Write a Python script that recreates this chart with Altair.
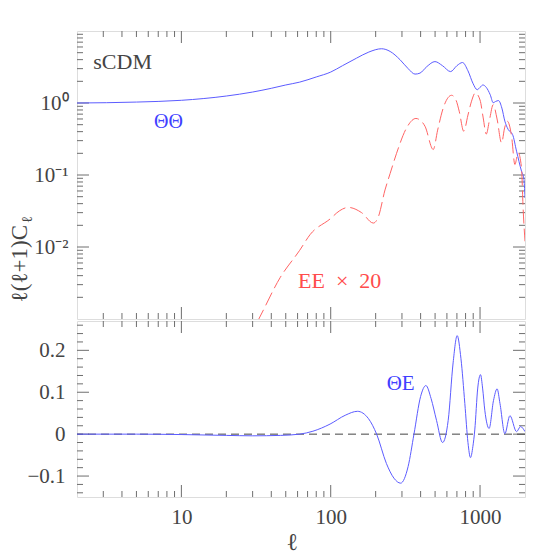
import altair as alt
import pandas as pd

# ---------------- data ----------------
ell_TT = [2, 5, 10, 20, 30, 40, 50, 62, 80, 100, 120, 149, 180, 219, 250, 291, 330, 367, 396, 440,
          499, 560, 635, 700, 763, 830, 899, 957, 1000, 1045, 1100, 1170, 1225, 1270, 1330, 1400,
          1466, 1542, 1651, 1756, 1895, 1965, 2000]
TT = [1.0, 1.03, 1.09, 1.25, 1.42, 1.6, 1.78, 1.95, 2.3, 2.69, 3.3, 4.2, 5.1, 5.67, 5.2, 4.0, 3.0, 2.52, 2.6, 3.2,
      3.76, 3.3, 2.73, 3.3, 3.65, 2.8, 1.85, 1.53, 1.65, 1.78, 1.65, 1.3, 1.01, 1.05, 1.08, 0.85,
      0.56, 0.43, 0.365, 0.214, 0.113, 0.09, 0.048]

ell_EE = [28, 33, 46, 62, 73, 99, 115, 131, 161, 193, 208, 231, 250, 276, 322, 372, 396, 428, 486, 520,
          567, 645, 690, 725, 778, 830, 877, 930, 1000, 1050, 1100, 1160, 1225, 1300, 1394, 1460,
          1520, 1626, 1711, 1800, 1895, 1942, 2000]
EE20 = [5.3e-4, 1.0e-3, 3.8e-3, 9.0e-3, 1.5e-2, 2.45e-2, 3.2e-2, 3.55e-2, 3.0e-2, 2.15e-2, 2.6e-2, 6.2e-2,
        0.105, 0.2, 0.45, 0.61, 0.58, 0.475, 0.226, 0.42, 0.853, 1.28, 1.1, 0.77, 0.405, 0.68, 1.06, 1.38,
        1.1, 0.62, 0.37, 0.6, 0.95, 0.6, 0.279, 0.45, 0.56, 0.346, 0.14, 0.204, 0.126, 0.035, 0.012]

ell_TE = [2, 5, 10, 20, 30, 46, 62, 76, 99, 125, 151, 179, 203, 236, 265, 294, 330, 361, 400, 434,
          470, 511, 561, 612, 660, 703, 745, 791, 830, 863, 895, 922, 965, 1007, 1040, 1076, 1150,
          1230, 1301, 1360, 1466, 1585, 1756, 1866, 2000]
TE = [0.0, 0.0, -0.001, -0.003, -0.004, -0.003, 0.0, 0.007, 0.024, 0.045, 0.0545, 0.037, 0.0, -0.07,
      -0.105, -0.117, -0.077, 0.0, 0.09, 0.116, 0.085, 0.033, -0.02, 0.033, 0.17, 0.235, 0.18, 0.073,
      -0.02, -0.056, -0.03, 0.01, 0.11, 0.142, 0.11, 0.057, 0.0135, 0.08, 0.108, 0.073, 0.001, 0.044,
      0.006, 0.018, 0.006]

x_major = [10, 100, 1000]
x_minor = [3, 4, 5, 6, 7, 8, 9, 20, 30, 40, 50, 60, 70, 80, 90, 200, 300, 400, 500, 600, 700, 800, 900]
ytop_major = [0.01, 0.1, 1]
ytop_minor = [m * d for d in (0.001, 0.01, 0.1, 1) for m in range(2, 10)]
ybot_major = [-0.1, 0.0, 0.1, 0.2]
ybot_minor = [-0.14, -0.12, -0.08, -0.06, -0.04, -0.02, 0.02, 0.04, 0.06, 0.08,
              0.12, 0.14, 0.16, 0.18, 0.22, 0.24, 0.26]

# ---------------- styling ----------------
W, H1, H2 = 448, 288, 176
FONT = "Liberation Serif"
FRAME = "#6e6e6e"
LABEL = "#444444"
BLUE = "#5c5cff"
BLUE_T = "#4040ff"
RED = "#ff6464"
RED_T = "#ff4c4c"
MAJ, MIN = 12, 6

xscale = alt.Scale(type="log", domain=[2, 2000], nice=False)
ytop_scale = alt.Scale(type="log", domain=[0.001, 10], nice=False)
ybot_scale = alt.Scale(type="linear", domain=[-0.15, 0.27], nice=False, zero=False)

common_axis = dict(ticks=False, tickSize=0, domain=False, grid=False, labelFont=FONT,
                   labelFontSize=21, labelColor=LABEL, title=None)
ytop_axis = alt.Axis(values=ytop_major, labelPadding=9,
                     labelExpr="datum.value == 1 ? '10⁰' : datum.value == 0.1 ? '10⁻¹' : '10⁻²'",
                     **common_axis)
ybot_axis = alt.Axis(values=ybot_major, labelPadding=12, format=".1~f", **common_axis)
xbot_axis = alt.Axis(values=x_major, labelPadding=9, format="d", labelFlush=False, **common_axis)


def tick_layers(xaxis, yscale, yaxis, ymaj, ymin, H):
    layers = []
    for vals, L in ((x_major, MAJ), (x_minor, MIN)):
        df = pd.DataFrame({"v": vals})
        for y0, y1 in ((H - L, H), (0, L)):
            layers.append(alt.Chart(df).mark_rule(color=FRAME, strokeWidth=1).encode(
                x=alt.X("v:Q", scale=xscale, axis=xaxis),
                y=alt.value(y0), y2=alt.value(y1)))
    for vals, L in ((ymaj, MAJ), (ymin, MIN)):
        df = pd.DataFrame({"v": vals})
        for x0, x1 in ((0, L), (W - L, W)):
            layers.append(alt.Chart(df).mark_rule(color=FRAME, strokeWidth=1).encode(
                y=alt.Y("v:Q", scale=yscale, axis=yaxis),
                x=alt.value(x0), x2=alt.value(x1)))
    return layers


def text_layer(t, **kw):
    enc = {k: v for k, v in kw.items() if k in ("x", "y")}
    mk = {k: v for k, v in kw.items() if k not in ("x", "y")}
    return alt.Chart(pd.DataFrame({"t": [t]})).mark_text(**mk).encode(text="t:N", **enc)


# ---------------- top panel ----------------
tt_df = pd.DataFrame({"l": ell_TT, "v": TT})
ee_df = pd.DataFrame({"l": ell_EE, "v": EE20})

tt_line = alt.Chart(tt_df).mark_line(color=BLUE, strokeWidth=1, interpolate="monotone", clip=True).encode(
    x=alt.X("l:Q", scale=xscale, axis=None),
    y=alt.Y("v:Q", scale=ytop_scale, axis=ytop_axis))
ee_line = alt.Chart(ee_df).mark_line(color=RED, strokeWidth=1, strokeDash=[14, 5],
                                     interpolate="monotone", clip=True).encode(
    x=alt.X("l:Q", scale=xscale, axis=None),
    y=alt.Y("v:Q", scale=ytop_scale, axis=ytop_axis))

top_texts = [
    text_layer("sCDM", x=alt.datum(2.57), y=alt.datum(2.93), align="left", baseline="alphabetic",
               font=FONT, fontSize=22, color=LABEL),
    text_layer("ΘΘ", x=alt.datum(8.2), y=alt.datum(0.54), align="center", baseline="middle",
               font=FONT, fontSize=20, color=BLUE_T),
    text_layer("EE\u2002×\u200220", x=alt.datum(60.4), y=alt.datum(0.0027), align="left",
               baseline="alphabetic", font=FONT, fontSize=22, color=RED_T),
    text_layer("ℓ(ℓ+1)C", x=alt.value(-50), y=alt.value(194), angle=270, align="right",
               baseline="alphabetic", font=FONT, fontSize=23, color=LABEL),
    text_layer("ℓ", x=alt.value(-45), y=alt.value(192), angle=270, align="left",
               baseline="alphabetic", font=FONT, fontSize=15, color=LABEL),
]

top = alt.layer(
    *tick_layers(None, ytop_scale, ytop_axis, ytop_major, ytop_minor, H1),
    tt_line, ee_line, *top_texts
).properties(width=W, height=H1)

# ---------------- bottom panel ----------------
te_df = pd.DataFrame({"l": ell_TE, "v": TE})
zero = alt.Chart(pd.DataFrame({"z": [0.0]})).mark_rule(color="#444444", strokeWidth=1,
                                                       strokeDash=[8, 5]).encode(
    y=alt.Y("z:Q", scale=ybot_scale, axis=ybot_axis))
te_line = alt.Chart(te_df).mark_line(color=BLUE, strokeWidth=1, interpolate="monotone", clip=True).encode(
    x=alt.X("l:Q", scale=xscale, axis=xbot_axis),
    y=alt.Y("v:Q", scale=ybot_scale, axis=ybot_axis))

bot_texts = [
    text_layer("ΘE", x=alt.datum(294), y=alt.datum(0.119), align="center", baseline="middle",
               font=FONT, fontSize=21, color=BLUE_T),
    text_layer("ℓ", x=alt.value(215), y=alt.value(229), align="center", baseline="alphabetic",
               font=FONT, fontSize=24, color=LABEL),
]

bottom = alt.layer(
    *tick_layers(xbot_axis, ybot_scale, ybot_axis, ybot_major, ybot_minor, H2),
    zero, te_line, *bot_texts
).properties(width=W, height=H2)

chart = alt.vconcat(top, bottom, spacing=0).properties(
    padding={"left": 0, "top": 22, "right": 5, "bottom": 0}
).configure_view(stroke=FRAME, strokeWidth=1).configure(background="white")

chart.save("out.html", embed_options={"renderer": "svg", "actions": False})
